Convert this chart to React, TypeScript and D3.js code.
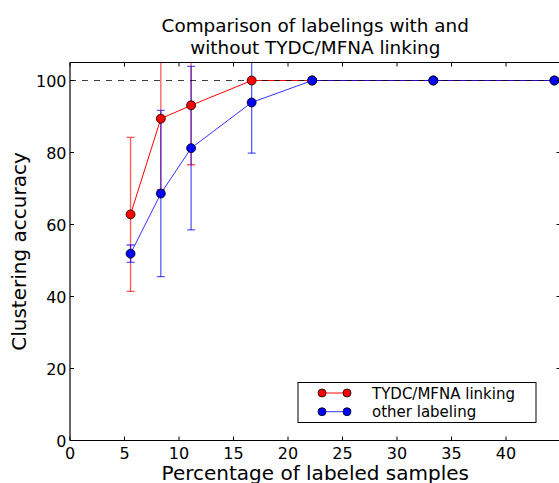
import React from "react";
import * as d3 from "d3";

const xValues = [5.556, 8.333, 11.111, 16.667, 22.222, 33.333, 44.444];
const redMean = [62.8, 89.4, 93.1, 100, 100, 100, 100];
const redErr = [21.4, 19.7, 16.5, 0, 0, 0, 0];
const blueMean = [51.9, 68.6, 81.2, 93.9, 100, 100, 100];
const blueErr = [2.4, 23.1, 22.7, 14.1, 0, 0, 0];
const xTicks = [0, 5, 10, 15, 20, 25, 30, 35, 40];
const yTicks = [0, 20, 40, 60, 80, 100];
const seriesNames = ["TYDC/MFNA linking", "other labeling"];
const titleLines = ["Comparison of labelings with and", "without TYDC/MFNA linking"];

const W = 559, H = 483;
const L = 70, R = 560.5, T = 62.5, B = 440.5;
const FONT = "DejaVu Sans, sans-serif";

export default function App() {
  const x = d3.scaleLinear().domain([0, 45]).range([L, R]);
  const y = d3.scaleLinear().domain([0, 105]).range([B, T]);
  const line = d3.line<number>().x((_, i) => x(xValues[i])).y((d) => y(d));
  const series = [
    { name: seriesNames[0], mean: redMean, err: redErr, color: "#ff0000", op: 1 },
    { name: seriesNames[1], mean: blueMean, err: blueErr, color: "#0000ff", op: 0.8 },
  ];
  const cap = 4;
  return (
    <svg width={W} height={H} style={{ position: "absolute", left: 0, top: 0 }} fontFamily={FONT}>
      <rect width={W} height={H} fill="white" />
      <defs>
        <clipPath id="plot">
          <rect x={L} y={T} width={R - L} height={B - T} />
        </clipPath>
      </defs>
      {titleLines.map((t, i) => (
        <text key={i} x={(L + R) / 2} y={31.5 + i * 22} textAnchor="middle" fontSize={18.4}>{t}</text>
      ))}
      <g clipPath="url(#plot)">
        {series.map((s) => (
          <g key={s.name}>
            {s.mean.map((m, i) =>
              s.err[i] > 0 ? (
                <g key={i} stroke={s.color} strokeOpacity={0.65} strokeWidth={1.3}>
                  <line x1={x(xValues[i])} x2={x(xValues[i])} y1={y(m - s.err[i])} y2={y(m + s.err[i])} />
                  <line x1={x(xValues[i]) - cap} x2={x(xValues[i]) + cap} y1={y(m - s.err[i])} y2={y(m - s.err[i])} />
                  <line x1={x(xValues[i]) - cap} x2={x(xValues[i]) + cap} y1={y(m + s.err[i])} y2={y(m + s.err[i])} />
                </g>
              ) : null
            )}
          </g>
        ))}
        {series.map((s) => (
          <path key={s.name + "l"} d={line(s.mean) || ""} fill="none" stroke={s.color} strokeOpacity={s.op} strokeWidth={1} />
        ))}
        <line x1={L} x2={R} y1={y(100)} y2={y(100)} stroke="black" strokeOpacity={0.75} strokeDasharray="6,6" strokeWidth={1} />
        {series.map((s) => (
          <g key={s.name + "m"}>
            {s.mean.map((m, i) => (
              <circle key={i} cx={x(xValues[i])} cy={y(m)} r={4.5} fill={s.color} stroke="black" strokeWidth={0.8} />
            ))}
          </g>
        ))}
      </g>
      {/* spines */}
      <line x1={L} x2={L} y1={T} y2={B} stroke="black" strokeWidth={1.2} />
      <line x1={L} x2={R} y1={B} y2={B} stroke="black" strokeWidth={1.2} />
      <line x1={L} x2={R} y1={T} y2={T} stroke="black" strokeWidth={1.2} />
      <line x1={R} x2={R} y1={T} y2={B} stroke="black" strokeWidth={1.2} />
      {xTicks.map((t) => (
        <g key={t}>
          <line x1={x(t)} x2={x(t)} y1={B} y2={B - 4} stroke="black" />
          <line x1={x(t)} x2={x(t)} y1={T} y2={T + 4} stroke="black" />
          <text x={x(t)} y={B + 18.5} textAnchor="middle" fontSize={16}>{t}</text>
        </g>
      ))}
      {yTicks.map((t) => (
        <g key={t}>
          <line x1={L} x2={L + 4} y1={y(t)} y2={y(t)} stroke="black" />
          <line x1={R} x2={R - 4} y1={y(t)} y2={y(t)} stroke="black" />
          <text x={L - 3.5} y={y(t) + 6} textAnchor="end" fontSize={16}>{t}</text>
        </g>
      ))}
      <text x={(L + R) / 2} y={480} textAnchor="middle" fontSize={20}>Percentage of labeled samples</text>
      <text transform={`translate(26,${(T + B) / 2}) rotate(-90)`} textAnchor="middle" fontSize={20}>Clustering accuracy</text>
      {/* legend */}
      <rect x={298} y={382.5} width={238} height={40} fill="white" stroke="black" strokeWidth={1} />
      {series.map((s, i) => {
        const ly = 393 + i * 18.7;
        return (
          <g key={s.name + "lg"}>
            <line x1={322} x2={347} y1={ly} y2={ly} stroke={s.color} strokeOpacity={s.op} strokeWidth={1} />
            <circle cx={322} cy={ly} r={4} fill={s.color} stroke="black" strokeWidth={0.8} />
            <circle cx={347} cy={ly} r={4} fill={s.color} stroke="black" strokeWidth={0.8} />
            <text x={372} y={ly + 5.5} fontSize={15}>{s.name}</text>
          </g>
        );
      })}
    </svg>
  );
}
